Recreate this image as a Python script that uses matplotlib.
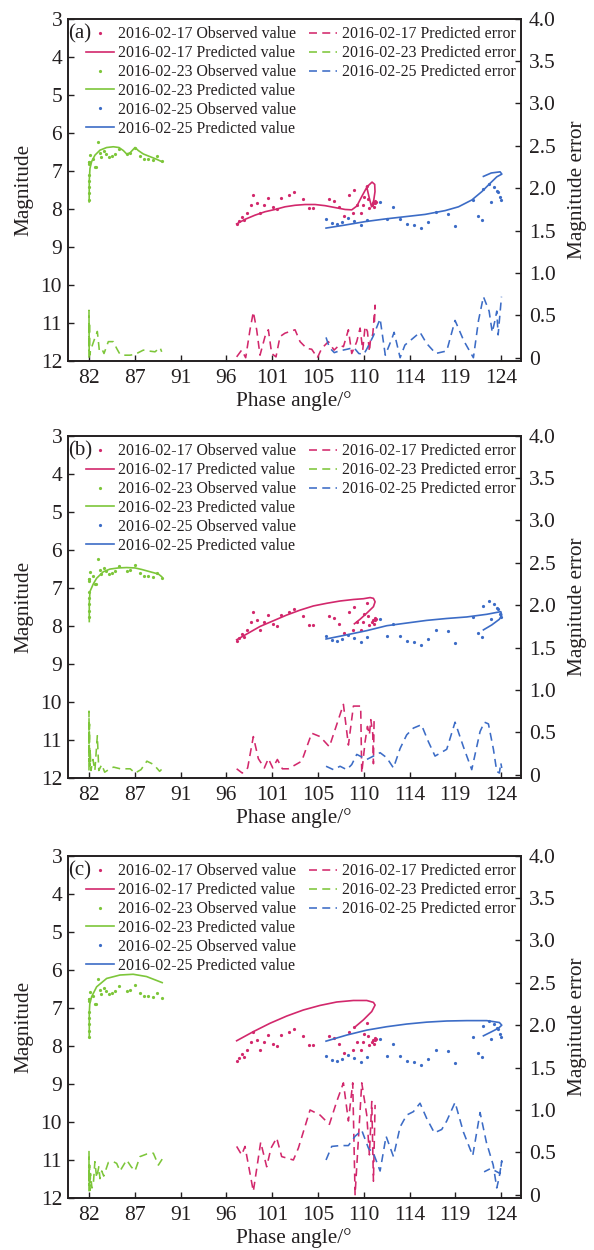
import numpy as np
import matplotlib
matplotlib.use("Agg")
import matplotlib.pyplot as plt
from matplotlib.lines import Line2D

plt.rcParams['font.family'] = ['Liberation Serif', 'DejaVu Serif']

# ---------------- data ----------------
xtick_labels = [82, 87, 91, 96, 101, 105, 110, 114, 119, 124]
ytick_left = [3, 4, 5, 6, 7, 8, 9, 10, 11, 12]
ytick_right = [0, 0.5, 1.0, 1.5, 2.0, 2.5, 3.0, 3.5, 4.0]
ytick_right_labels = ["0", "0.5", "1.0", "1.5", "2.0", "2.5", "3.0", "3.5", "4.0"]
panel_labels = ["(a)", "(b)", "(c)"]
series_dates = ["2016-02-17", "2016-02-23", "2016-02-25"]

# observed values (same in all panels)
obs17_x = [97.05, 97.29, 97.56, 97.83, 98.14, 98.51, 98.75, 99.16, 99.47, 99.88, 100.22, 100.73,
           101.13, 101.54, 102.43, 102.90, 103.85, 104.47, 104.87, 106.50, 106.98, 107.52, 108.00,
           108.50, 108.95, 109.05, 109.35, 109.69, 109.90, 110.07, 110.37, 110.48, 110.58, 110.82,
           110.99, 111.09, 111.23, 111.10, 111.15]
obs17_y = [8.40, 8.32, 8.23, 8.29, 8.12, 7.89, 7.64, 7.86, 8.11, 7.90, 7.72, 7.95,
           8.02, 7.71, 7.63, 7.55, 7.75, 7.99, 7.99, 7.75, 7.80, 7.95, 8.19,
           7.64, 8.12, 7.51, 7.90, 8.11, 7.89, 7.68, 7.40, 7.75, 7.99, 7.90,
           7.84, 7.95, 7.82, 7.80, 7.86]
obs23_x = [82.0, 82.0, 82.0, 82.0, 82.0, 82.0, 82.02, 82.05, 82.13, 82.37, 82.58, 82.71, 82.89,
           83.12, 83.22, 83.56, 83.73, 84.07, 84.31, 84.65, 85.06, 85.84, 86.18, 86.69, 87.20,
           87.64, 88.05, 88.56, 88.96, 89.41]
obs23_y = [7.77, 7.60, 7.42, 7.26, 7.11, 6.83, 6.78, 6.76, 6.59, 6.70, 6.91, 6.89, 6.25,
           6.54, 6.63, 6.47, 6.56, 6.65, 6.61, 6.57, 6.43, 6.57, 6.53, 6.41, 6.61,
           6.68, 6.68, 6.72, 6.61, 6.74]
obs25_x = [106.16, 106.74, 107.25, 107.83, 108.44, 109.01, 109.69, 110.31, 111.67, 112.35, 113.03,
           113.71, 114.38, 115.16, 115.88, 116.59, 117.34, 118.63, 119.31, 121.18, 121.62, 122.10,
           122.20, 122.78, 122.95, 123.32, 123.56, 123.73, 123.90, 124.04]
obs25_y = [8.27, 8.38, 8.39, 8.35, 8.25, 8.33, 8.42, 8.31, 7.83, 8.26, 7.95,
           8.26, 8.39, 8.44, 8.52, 8.36, 8.10, 8.15, 8.46, 7.78, 8.18, 8.31,
           7.47, 7.36, 7.83, 7.43, 7.53, 7.57, 7.68, 7.78]

# predicted values, panel (a)
pred17_a_x = [97.05, 97.90, 98.92, 99.94, 100.96, 101.98, 103.00, 104.02, 105.04, 106.06, 107.08,
              108.10, 108.78, 109.30, 109.80, 110.35, 110.85, 111.12, 111.15, 111.02, 110.80,
              110.55, 110.30]
pred17_a_y = [8.40, 8.28, 8.17, 8.08, 8.02, 7.95, 7.91, 7.89, 7.89, 7.92, 7.97,
              8.02, 8.03, 7.93, 7.68, 7.42, 7.30, 7.36, 7.55, 7.78, 7.95,
              7.70, 7.42]
pred23_a_x = [82.02, 82.03, 82.10, 82.27, 82.61, 83.12, 83.80, 84.48, 85.06, 85.50, 85.84, 86.18,
              86.69, 87.03, 87.54, 88.22, 88.90, 89.41]
pred23_a_y = [7.82, 7.25, 6.94, 6.76, 6.59, 6.46, 6.39, 6.37, 6.39, 6.47, 6.56, 6.53,
              6.39, 6.47, 6.56, 6.63, 6.70, 6.76]
pred25_a_x = [106.16, 108.10, 110.14, 112.18, 114.22, 116.26, 118.30, 119.66, 121.02, 122.04,
              122.89, 123.57, 124.08, 123.90, 123.00, 122.20]
pred25_a_y = [8.51, 8.43, 8.34, 8.27, 8.21, 8.15, 8.05, 7.95, 7.77, 7.55,
              7.33, 7.16, 7.09, 7.03, 7.06, 7.15]

# predicted values, panel (b)
pred17_b_x = [97.05, 98.07, 99.43, 100.79, 102.15, 103.51, 104.87, 106.23, 107.59, 108.95, 109.97,
              110.65, 110.99, 111.16, 110.99, 110.31, 109.63, 109.05]
pred17_b_y = [8.37, 8.22, 8.02, 7.87, 7.72, 7.59, 7.48, 7.41, 7.35, 7.31, 7.29,
              7.26, 7.28, 7.37, 7.50, 7.67, 7.83, 7.95]
pred23_b_x = [82.03, 82.03, 82.10, 82.44, 82.78, 83.46, 84.14, 84.99, 85.84, 86.69, 87.37, 88.22,
              89.07, 89.41]
pred23_b_y = [7.89, 7.41, 7.10, 6.90, 6.75, 6.58, 6.51, 6.48, 6.47, 6.48, 6.52, 6.58,
              6.64, 6.71]
pred25_b_x = [106.16, 108.27, 110.31, 112.35, 114.38, 116.42, 118.46, 120.50, 122.54, 123.97,
              124.07, 123.83, 123.05, 122.20]
pred25_b_y = [8.35, 8.24, 8.13, 8.00, 7.93, 7.86, 7.81, 7.77, 7.70, 7.63,
              7.72, 7.83, 7.98, 8.11]

# predicted values, panel (c)
pred17_c_x = [97.05, 98.75, 100.45, 102.15, 103.85, 105.55, 107.25, 108.95, 110.31, 110.99,
              111.16, 110.82, 109.97, 109.05]
pred17_c_y = [7.87, 7.63, 7.41, 7.22, 7.06, 6.94, 6.85, 6.81, 6.81, 6.86,
              6.93, 7.10, 7.32, 7.52]
pred23_c_x = [82.03, 82.03, 82.08, 82.27, 82.78, 83.80, 85.16, 86.50, 87.86, 89.46]
pred23_c_y = [7.76, 7.15, 6.90, 6.71, 6.45, 6.23, 6.14, 6.12, 6.18, 6.34]
pred25_c_x = [106.16, 108.27, 110.31, 112.35, 114.38, 116.42, 118.46, 120.50, 122.54, 123.83,
              124.07, 123.73, 123.05, 122.20]
pred25_c_y = [7.88, 7.72, 7.59, 7.50, 7.43, 7.38, 7.35, 7.34, 7.34, 7.39,
              7.46, 7.54, 7.63, 7.74]

# predicted errors, panel (a)
err17_a_x = [97.05, 97.56, 97.97, 98.41, 98.75, 99.09, 99.43, 99.94, 100.28, 100.62, 101.06, 101.47,
             101.98, 103.00, 103.51, 104.19, 104.70, 105.28, 105.72, 106.40, 106.98, 107.52, 107.93,
             108.44, 108.78, 109.29, 109.63, 109.90, 110.14, 110.38, 110.58, 110.72, 110.92, 111.16,
             111.09]
err17_a_y = [0.01, 0.09, 0.00, 0.33, 0.54, 0.33, 0.03, 0.25, 0.33, 0.05, 0.01, 0.25,
             0.29, 0.33, 0.19, 0.11, 0.10, 0.00, 0.11, 0.19, 0.09, 0.15, 0.13,
             0.33, 0.05, 0.19, 0.35, 0.09, 0.37, 0.31, 0.07, 0.25, 0.27, 0.62,
             0.41]
err23_a_x = [82.0, 82.0, 82.02, 82.05, 82.08, 82.17, 82.50, 82.85, 83.05, 83.29, 83.53, 83.97,
             84.48, 84.82, 85.16, 85.50, 86.18, 86.69, 87.20, 87.54, 88.05, 88.73, 89.24, 89.41]
err23_a_y = [0.00, 0.56, 0.08, 0.42, 0.03, 0.09, 0.20, 0.31, 0.09, 0.11, 0.05, 0.19,
             0.19, 0.11, 0.04, 0.03, 0.03, 0.04, 0.07, 0.09, 0.08, 0.07, 0.12, 0.07]
err25_a_x = [106.16, 106.50, 107.00, 107.50, 108.30, 109.00, 109.50, 110.00, 110.30, 110.99, 111.67,
             112.20, 112.85, 113.10, 113.71, 114.20, 114.72, 115.74, 116.40, 117.34, 118.46, 119.31,
             120.20, 121.18, 121.70, 122.20, 122.78, 123.10, 123.40, 123.56, 123.70, 124.04]
err25_a_y = [0.24, 0.12, 0.06, 0.08, 0.10, 0.12, 0.05, 0.04, 0.10, 0.26, 0.46,
             0.03, 0.22, 0.30, 0.00, 0.15, 0.20, 0.30, 0.17, 0.05, 0.08, 0.44,
             0.20, 0.00, 0.44, 0.72, 0.55, 0.30, 0.45, 0.55, 0.27, 0.72]

# predicted errors, panel (b)
err17_b_x = [97.05, 97.62, 98.17, 98.75, 99.26, 99.87, 100.28, 100.73, 101.20, 101.71, 102.32,
             103.68, 104.70, 105.55, 106.50, 107.93, 108.44, 108.95, 109.69, 109.80, 110.14,
             110.38, 110.58, 110.72, 110.92, 110.99, 111.06]
err17_b_y = [0.07, 0.02, 0.08, 0.45, 0.19, 0.08, 0.19, 0.08, 0.18, 0.07, 0.07,
             0.16, 0.49, 0.45, 0.33, 0.83, 0.35, 0.81, 0.81, 0.02, 0.39,
             0.57, 0.47, 0.65, 0.49, 0.13, 0.67]
err23_b_x = [82.0, 82.0, 82.02, 82.05, 82.08, 82.12, 82.20, 82.40, 82.60, 82.85, 83.00, 83.30,
             83.60, 84.00, 84.50, 85.20, 86.20, 86.70, 87.30, 87.90, 88.60, 89.20, 89.46]
err23_b_y = [0.05, 0.75, 0.15, 0.60, 0.10, 0.30, 0.05, 0.18, 0.05, 0.46, 0.05, 0.12,
             0.03, 0.06, 0.09, 0.07, 0.07, 0.02, 0.06, 0.16, 0.12, 0.04, 0.07]
err25_b_x = [106.16, 106.91, 107.59, 108.27, 108.78, 109.29, 110.31, 110.99, 111.67, 112.35, 113.03,
             113.71, 114.38, 115.06, 115.88, 116.59, 117.27, 118.46, 119.31, 120.16, 121.01, 121.86,
             122.30, 122.71, 123.22, 123.56, 123.83, 123.97, 124.07]
err25_b_y = [0.10, 0.06, 0.10, 0.06, 0.12, 0.24, 0.18, 0.22, 0.26, 0.20, 0.08,
             0.31, 0.47, 0.55, 0.59, 0.39, 0.22, 0.30, 0.62, 0.33, 0.06, 0.51,
             0.62, 0.60, 0.30, 0.04, 0.02, 0.14, 0.08]

# predicted errors, panel (c)
err17_c_x = [97.05, 97.56, 97.90, 98.75, 99.50, 100.11, 100.55, 101.13, 101.64, 102.83, 103.34,
             104.53, 105.55, 106.50, 107.25, 107.93, 108.44, 108.88, 109.12, 109.80, 110.31,
             110.58, 110.82, 110.99, 111.16]
err17_c_y = [0.57, 0.47, 0.57, 0.04, 0.62, 0.33, 0.55, 0.67, 0.45, 0.41, 0.55,
             1.00, 0.94, 0.83, 1.10, 1.32, 0.87, 1.32, 0.00, 1.32, 0.94,
             0.47, 1.10, 0.16, 1.06]
err23_c_x = [82.0, 82.0, 82.03, 82.06, 82.10, 82.15, 82.30, 82.44, 82.60, 82.78, 83.00, 83.12,
             83.30, 83.50, 83.97, 84.48, 84.82, 85.16, 85.84, 86.30, 86.69, 87.20, 87.88, 88.56,
             89.07, 89.46]
err23_c_y = [0.04, 0.51, 0.10, 0.35, 0.05, 0.25, 0.08, 0.12, 0.39, 0.20, 0.33, 0.19,
             0.28, 0.22, 0.38, 0.39, 0.37, 0.28, 0.41, 0.33, 0.28, 0.45, 0.48, 0.49,
             0.35, 0.42]
err25_c_x = [106.16, 106.74, 107.59, 108.44, 109.12, 109.80, 110.48, 110.99, 111.67, 112.28, 113.03,
             113.71, 114.38, 115.06, 115.74, 116.42, 117.20, 117.95, 118.46, 119.31, 120.16, 121.11,
             121.86, 122.50, 123.20, 123.56, 123.80, 124.07, 123.90, 122.95, 122.27]
err25_c_y = [0.41, 0.57, 0.58, 0.58, 0.69, 0.76, 0.55, 0.49, 0.28, 0.69, 0.45,
             0.80, 0.94, 0.98, 1.08, 0.90, 0.73, 0.77, 0.87, 1.09, 0.74, 0.46,
             0.97, 0.62, 0.35, 0.08, 0.20, 0.40, 0.25, 0.31, 0.27]

pred_sets = [
    [(pred17_a_x, pred17_a_y), (pred23_a_x, pred23_a_y), (pred25_a_x, pred25_a_y)],
    [(pred17_b_x, pred17_b_y), (pred23_b_x, pred23_b_y), (pred25_b_x, pred25_b_y)],
    [(pred17_c_x, pred17_c_y), (pred23_c_x, pred23_c_y), (pred25_c_x, pred25_c_y)],
]
err_sets = [
    [(err17_a_x, err17_a_y), (err23_a_x, err23_a_y), (err25_a_x, err25_a_y)],
    [(err17_b_x, err17_b_y), (err23_b_x, err23_b_y), (err25_b_x, err25_b_y)],
    [(err17_c_x, err17_c_y), (err23_c_x, err23_c_y), (err25_c_x, err25_c_y)],
]
obs_sets = [(obs17_x, obs17_y), (obs23_x, obs23_y), (obs25_x, obs25_y)]

# ---------------- style ----------------
COLORS = ['#D2286C', '#7DC63A', '#3C6CC6']
TXT = '#231F20'
TICK_FS = 15.5
LABEL_FS = 15.3
LEG_FS = 11.4

W, H = 594, 1250
fig = plt.figure(figsize=(W / 100, H / 100), dpi=100)

left_px, right_px = 67.7, 520.7
tops_px = [18.7, 435.7, 855.7]
height_px = 342.0

for i in range(3):
    top = tops_px[i]
    ax = fig.add_axes([left_px / W, 1 - (top + height_px) / H,
                       (right_px - left_px) / W, height_px / H])
    ax2 = ax.twinx()

    obs_handles, pred_handles, err_handles = [], [], []
    for k in range(3):
        ox, oy = obs_sets[k]
        h1, = ax.plot(ox, oy, linestyle='none', marker='o', ms=2.3, mew=0,
                      color=COLORS[k], label=f"{series_dates[k]} Observed value")
        px, py = pred_sets[i][k]
        h2, = ax.plot(px, py, '-', lw=1.2, color=COLORS[k],
                      label=f"{series_dates[k]} Predicted value")
        ex, ey = err_sets[i][k]
        h3, = ax2.plot(ex, ey, linestyle=(0, (5.0, 3.3)), lw=1.15, color=COLORS[k],
                       label=f"{series_dates[k]} Predicted error")
        obs_handles.append(h1); pred_handles.append(h2); err_handles.append(h3)

    ax.set_xlim(79.83, 126.0)
    ax.set_ylim(12, 3)
    ax2.set_ylim(-0.035, 4.0)
    ax.set_xticks(np.linspace(xtick_labels[0], xtick_labels[-1], len(xtick_labels)))
    ax.set_xticklabels([str(v) for v in xtick_labels])
    ax.set_yticks(ytick_left)
    ax.set_yticklabels([str(v) for v in ytick_left])
    ax2.set_yticks(ytick_right)
    ax2.set_yticklabels(ytick_right_labels)

    ax.tick_params(axis='both', direction='in', length=4, width=1.0, colors=TXT,
                   labelsize=TICK_FS, top=False, right=False)
    ax.tick_params(axis='x', pad=6)
    ax.tick_params(axis='y', pad=4)
    ax2.tick_params(axis='y', direction='in', length=4, width=1.0, colors=TXT,
                    labelsize=TICK_FS, pad=6)
    for a in (ax, ax2):
        for s in a.spines.values():
            s.set_linewidth(1.2)
            s.set_color(TXT)

    ax.set_xlabel("Phase angle/°", fontsize=LABEL_FS, color=TXT, labelpad=2)
    ax.set_ylabel("Magnitude", fontsize=LABEL_FS, color=TXT, labelpad=5)
    ax2.set_ylabel("Magnitude error", fontsize=LABEL_FS, color=TXT, labelpad=9)

    ax.text(0.002, 1 - 15.0 / height_px, panel_labels[i], transform=ax.transAxes,
            ha='left', va='center', fontsize=15, color=TXT)

    blank = Line2D([], [], linestyle='none', marker=None, alpha=0)
    handles = [obs_handles[0], pred_handles[0], obs_handles[1], pred_handles[1],
               obs_handles[2], pred_handles[2]] + err_handles + [blank] * 3
    labels = [h.get_label() for h in handles[:9]] + [''] * 3
    leg = ax2.legend(handles, labels, ncol=2, loc='upper left',
                     bbox_to_anchor=((86 - left_px) / (right_px - left_px), 1 - 7.5 / height_px),
                     frameon=False, fontsize=LEG_FS, handlelength=1.75, handletextpad=0.3,
                     columnspacing=0.8, labelspacing=0.185, borderpad=0, borderaxespad=0,
                     numpoints=1)
    for t in leg.get_texts():
        t.set_color(TXT)

fig.savefig("out.png", dpi=100)
